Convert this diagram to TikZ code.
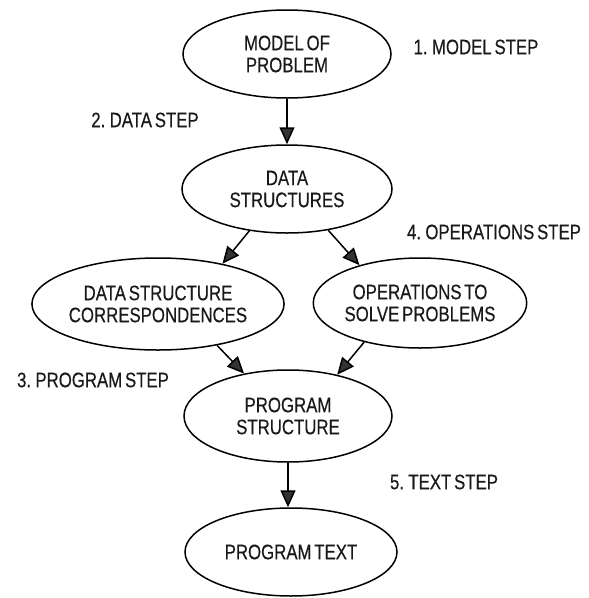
\documentclass[tikz,border=0pt]{standalone}
\usepackage{fontspec}
\setmainfont{Liberation Sans}[FakeStretch=0.8,WordSpace=0.6,FakeBold=0.4]
\usetikzlibrary{arrows.meta,shapes.geometric}

\tikzset{
  stage/.style={ellipse, draw=black, line width=1.5pt, inner sep=0pt,
    align=center, font=\fontsize{21}{22}\selectfont, text=black!90},
  steplabel/.style={font=\fontsize{21}{22}\selectfont, text=black!90, inner sep=0pt},
  flow/.style={line width=1.5pt, draw=black,
    -{Triangle[length=17pt,width=15pt,fill=black!80]}}
}

\begin{document}
\begin{tikzpicture}[x=1pt,y=-1pt]
  \useasboundingbox (0,0) rectangle (589,598);

  % stages of the method
  \node[stage, minimum width=208pt, minimum height=88pt] (model) at (287,54) {MODEL OF\\PROBLEM};
  \node[stage, minimum width=210pt, minimum height=88pt] (data) at (287,189) {DATA\\STRUCTURES};
  \node[stage, minimum width=210pt, minimum height=92pt] (corr) at (158,304) {DATA STRUCTURE\\CORRESPONDENCES};
  \node[stage, minimum width=212pt, minimum height=90pt] (ops) at (420,303) {OPERATIONS TO\\SOLVE PROBLEMS};
  \node[stage, minimum width=208pt, minimum height=92pt] (prog) at (288,416) {PROGRAM\\STRUCTURE};
  \node[stage, minimum width=212pt, minimum height=88pt] (text) at (291,552) {PROGRAM TEXT};

  % step names
  \node[steplabel] (s1) at (476,47) {1. MODEL STEP};
  \node[steplabel] (s2) at (145,120) {2. DATA STEP};
  \node[steplabel] (s4) at (494,232) {4. OPERATIONS STEP};
  \node[steplabel] (s3) at (93,380) {3. PROGRAM STEP};
  \node[steplabel] (s5) at (444,482) {5. TEXT STEP};

  % transitions
  \draw[flow] (model.south) -- (data.north);
  \draw[flow] (data.228) -- (corr.32);
  \draw[flow] (data.315) -- (ops.148);
  \draw[flow] (corr.325) -- (prog.136);
  \draw[flow] (ops.215) -- (prog.40);
  \draw[flow] (prog.south) -- (prog.south |- text.north);
\end{tikzpicture}
\end{document}
